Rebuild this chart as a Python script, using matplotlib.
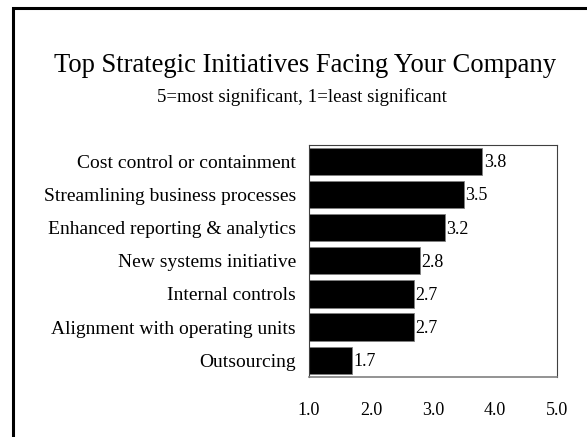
import matplotlib
matplotlib.use("Agg")
import matplotlib.pyplot as plt
from matplotlib.patches import Rectangle

# survey averages, top to bottom
initiatives = ["Cost control or containment",
               "Streamlining business processes",
               "Enhanced reporting & analytics",
               "New systems initiative",
               "Internal controls",
               "Alignment with operating units",
               "Outsourcing"]
scores = [3.8, 3.5, 3.2, 2.8, 2.7, 2.7, 1.7]
xticks = [1.0, 2.0, 3.0, 4.0, 5.0]

plt.rcParams['font.family'] = ['Liberation Serif', 'DejaVu Serif']

fig = plt.figure(figsize=(5.87, 4.37), dpi=100)

# slide border (runs off the right and bottom edges)
fig.patches.append(Rectangle((12.5/587, -0.1), 1.2, (437-8.5)/437 + 0.1,
                             transform=fig.transFigure, fill=False,
                             edgecolor='black', linewidth=2.2))

fig.text(0.5205, 1 - 72/437, "Top Strategic Initiatives Facing Your Company",
         ha='center', va='baseline', fontsize=19.2)
fig.text(0.515, 1 - 102/437, "5=most significant, 1=least significant",
         ha='center', va='baseline', fontsize=13.6)

ax = fig.add_axes([309/587, 1 - 376.7/437, (556.7-309)/587, (376.7-145)/437])

ypos = list(range(len(initiatives)))
ax.barh(ypos, [s - 1.0 for s in scores], left=1.0, height=0.82,
        color='black', edgecolor='#808080', linewidth=0.6)
for y, s in zip(ypos, scores):
    ax.text(s + 0.02, y + 0.04, f"{s:.1f}", va='center', ha='left', fontsize=13)

ax.set_xlim(1.0, 5.0)
ax.set_ylim(len(initiatives) - 0.5, -0.5)
ax.set_xticks(xticks)
ax.set_xticklabels([f"{t:.1f}" for t in xticks], fontsize=13)
ax.set_yticks(ypos)
ax.set_yticklabels(initiatives, fontsize=14)
ax.tick_params(axis='both', length=0)
ax.tick_params(axis='x', pad=18)
ax.tick_params(axis='y', pad=9.5)
for side in ['top', 'right', 'left']:
    ax.spines[side].set_color('#404040')
    ax.spines[side].set_linewidth(0.8)
ax.spines['bottom'].set_color('#808080')
ax.spines['bottom'].set_linewidth(1.2)

fig.savefig("out.png", dpi=100)
